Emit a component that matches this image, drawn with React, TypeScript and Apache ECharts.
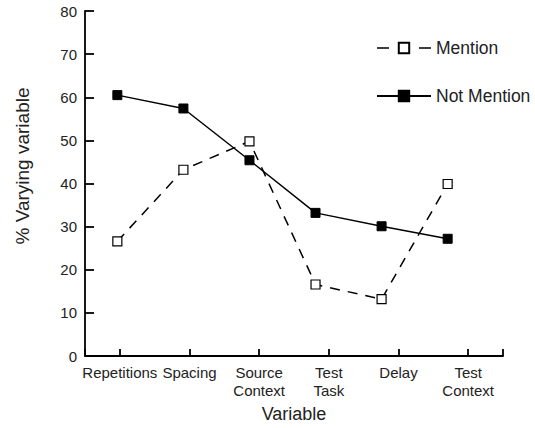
import React, { useEffect, useRef } from "react";
import * as echarts from "echarts";

const categories = ["Repetitions", "Spacing", "Source\nContext", "Test\nTask", "Delay", "Test\nContext"];
const mentionValues = [26.6, 43.2, 49.8, 16.6, 13.2, 39.9];
const notMentionValues = [60.5, 57.4, 45.4, 33.2, 30.1, 27.2];
const yTicks = [0, 10, 20, 30, 40, 50, 60, 70, 80];

const FONT = "'Liberation Sans', Arial, Helvetica, sans-serif";
const TEXT = "#222";

export default function App() {
  const ref = useRef<HTMLDivElement>(null);
  useEffect(() => {
    if (!ref.current) return;
    const chart = echarts.init(ref.current, undefined, { renderer: "svg" });
    const toPoints = (vals: number[]) => vals.map((v, i) => [i, v]);
    chart.setOption({
      animation: false,
      backgroundColor: "#fff",
      textStyle: { fontFamily: FONT },
      grid: { left: 85, right: 32, top: 11, bottom: 70, containLabel: false },
      legend: {
        orient: "vertical",
        left: 371,
        top: 34,
        itemWidth: 54,
        itemHeight: 13,
        itemGap: 30,
        data: [
          { name: "Mention", lineStyle: { type: [12, 30], width: 1.5 } },
          { name: "Not Mention" },
        ],
        textStyle: { fontSize: 17.5, color: TEXT, fontFamily: FONT },
      },
      xAxis: [
        {
          type: "category",
          position: "bottom",
          data: categories,
          boundaryGap: true,
          axisLine: { show: true, onZero: false, lineStyle: { color: "#000", width: 1.8 } },
          axisTick: { show: true, inside: true, length: 7, alignWithLabel: true, lineStyle: { color: "#000", width: 1.8 } },
          axisLabel: { fontSize: 15, color: TEXT, fontFamily: FONT, margin: 7, lineHeight: 18.5, interval: 0 },
          splitLine: { show: false },
          name: "Variable",
          nameLocation: "middle",
          nameGap: 45,
          nameTextStyle: { fontSize: 18, color: TEXT, fontFamily: FONT },
        },
        {
          type: "value",
          position: "top",
          min: -0.4897,
          max: 5.838,
          show: false,
        },
        {
          type: "value",
          position: "bottom",
          min: 0,
          max: 1,
          interval: 1,
          axisLine: { show: false, onZero: false },
          axisTick: { show: true, inside: true, length: 7, lineStyle: { color: "#000", width: 1.8 } },
          axisLabel: { show: false },
          splitLine: { show: false },
        },
      ],
      yAxis: {
        type: "value",
        min: yTicks[0],
        max: yTicks[yTicks.length - 1],
        interval: 10,
        axisLine: { show: true, onZero: false, lineStyle: { color: "#000", width: 1.8 } },
        axisTick: { show: true, inside: true, length: 9, lineStyle: { color: "#000", width: 1.8 } },
        axisLabel: { fontSize: 15, color: TEXT, fontFamily: FONT, margin: 8 },
        splitLine: { show: false },
      },
      graphic: [
        {
          type: "text",
          x: 22,
          y: 166,
          rotation: Math.PI / 2,
          style: {
            text: "% Varying variable",
            fontSize: 19,
            fontFamily: FONT,
            fill: TEXT,
            align: "center",
            verticalAlign: "middle",
          },
        },
      ],
      series: [
        {
          name: "Mention",
          type: "line",
          xAxisIndex: 1,
          data: toPoints(mentionValues),
          symbol: "rect",
          symbolSize: 9,
          lineStyle: { color: "#000", width: 1.5, type: [10, 8] },
          itemStyle: { color: "#fff", borderColor: "#000", borderWidth: 1.2 },
          z: 2,
        },
        {
          name: "Not Mention",
          type: "line",
          xAxisIndex: 1,
          data: toPoints(notMentionValues),
          symbol: "rect",
          symbolSize: 9,
          lineStyle: { color: "#000", width: 1.5, type: "solid" },
          itemStyle: { color: "#000", borderColor: "#000", borderWidth: 1 },
          z: 3,
        },
      ],
    });
    return () => chart.dispose();
  }, []);
  return <div ref={ref} style={{ position: "fixed", left: 0, top: 0, width: 535, height: 428 }} />;
}
